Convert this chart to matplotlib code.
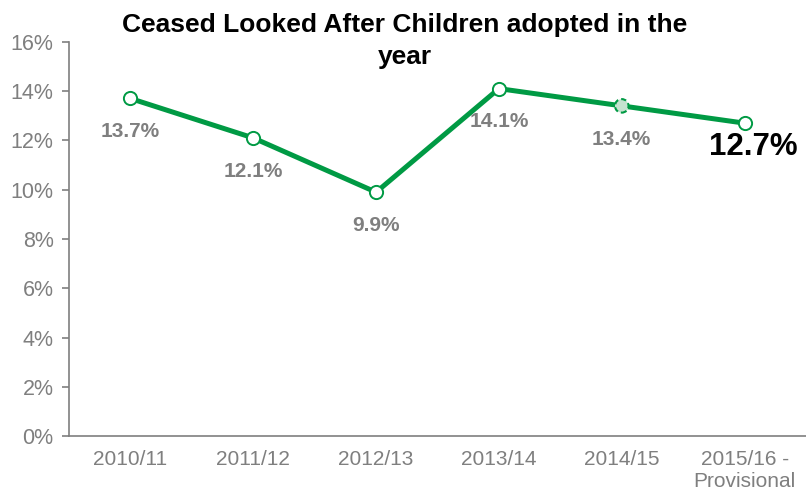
import matplotlib.pyplot as plt
from matplotlib.ticker import FuncFormatter

plt.rcParams["font.family"] = ["Liberation Sans", "DejaVu Sans"]

years = ["2010/11", "2011/12", "2012/13", "2013/14", "2014/15", "2015/16 -\nProvisional"]
adopted_pct = [13.7, 12.1, 9.9, 14.1, 13.4, 12.7]

GREEN = "#009a44"
GREY = "#7f7f7f"

fig = plt.figure(figsize=(8.06, 4.97), dpi=100)
ax = fig.add_axes([0.0856, 0.122, 0.9144, 0.794])

x = list(range(len(years)))
ax.plot(x, adopted_pct, color=GREEN, linewidth=3.6, zorder=2)
for i, v in enumerate(adopted_pct):
    if i == 4:
        # 2014/15 point is highlighted with a light fill and dashed rim
        ax.scatter([i], [v], s=95, facecolor="#c5e3cf", edgecolor=GREEN,
                   linewidths=1.5, linestyle=(0, (2.5, 1.5)), zorder=3)
    else:
        ax.plot(i, v, marker="o", markersize=9.5, markerfacecolor="white",
                markeredgecolor=GREEN, markeredgewidth=1.4, zorder=3)

for i, v in enumerate(adopted_pct[:-1]):
    ax.annotate(f"{v:.1f}%", (i, v), xytext=(0, -24), textcoords="offset points",
                ha="center", va="center", fontsize=15, fontweight="bold", color=GREY)
ax.annotate(f"{adopted_pct[-1]:.1f}%", (len(years) - 1, adopted_pct[-1]), xytext=(6, -17.5),
            textcoords="offset points", ha="center", va="center",
            fontsize=22.5, fontweight="bold", color="black")

ax.set_xlim(-0.5, len(years) - 0.5)
ax.set_ylim(0, 16)
ax.set_yticks(range(0, 17, 2))
ax.yaxis.set_major_formatter(FuncFormatter(lambda v, _: f"{v:.0f}%"))
ax.set_xticks(x)
ax.set_xticklabels(years)

for side in ("top", "right"):
    ax.spines[side].set_visible(False)
for side in ("left", "bottom"):
    ax.spines[side].set_color(GREY)
    ax.spines[side].set_linewidth(1.2)

ax.tick_params(axis="y", colors=GREY, labelsize=15.5, length=5, width=1.2, pad=6)
ax.tick_params(axis="x", colors=GREY, labelsize=15, length=0, pad=10)

fig.text(0.502, 0.917, "Ceased Looked After Children adopted in the\nyear",
         ha="center", va="center", fontsize=19, fontweight="bold",
         color="black", linespacing=1.4)

fig.savefig("out.png", dpi=100)
